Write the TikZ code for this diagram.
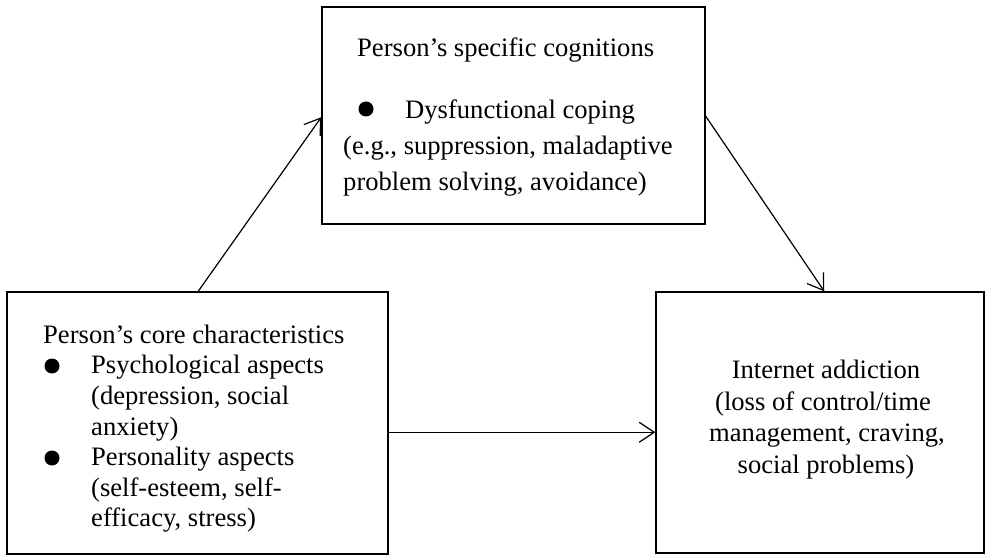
\documentclass[tikz,border=0pt]{standalone}
\usepackage{fontspec}
\setmainfont{Liberation Serif}
\usetikzlibrary{arrows.meta}
\tikzset{
  box/.style={draw, line width=1.5pt, inner sep=0pt, rectangle},
  txt/.style={anchor=base west, inner sep=0pt, font=\fontsize{26.6}{30.6}\selectfont},
  ctxt/.style={anchor=base, inner sep=0pt, font=\fontsize{26.6}{30.6}\selectfont},
  dot/.style={circle, fill=black, inner sep=0pt, minimum size=15pt},
  arr/.style={line width=1.2pt, -{Straight Barb[length=15pt,width=20pt,line width=1.2pt]}}
}
\begin{document}
\begin{tikzpicture}[x=1pt,y=-1pt]
\useasboundingbox (0,0) rectangle (986,556);
% boxes
\node[box, minimum width=383pt, minimum height=217pt] (T) at (513.5,115.5) {};
\node[box, minimum width=381pt, minimum height=262pt] (L) at (197.5,423) {};
\node[box, minimum width=328pt, minimum height=261pt] (R) at (820,422.5) {};
% top box text
\node[txt] (t1) at (357,57) {Person’s specific cognitions};
\node[dot] (tb) at (366,109) {};
\node[txt] (t2) at (405,118.5) {Dysfunctional coping};
\node[txt] (t3) at (343,155) {(e.g., suppression, maladaptive};
\node[txt] (t4) at (343,191) {problem solving, avoidance)};
% left box text
\node[txt] (l1) at (43,343.3) {Person’s core characteristics};
\node[dot] (lb1) at (52,366) {};
\node[txt] (l2) at (91,373.8) {Psychological aspects};
\node[txt] (l3) at (91,404.4) {(depression, social};
\node[txt] (l4) at (91,435) {anxiety)};
\node[dot] (lb2) at (52,458) {};
\node[txt] (l5) at (91,465.5) {Personality aspects};
\node[txt] (l6) at (91,496.1) {(self-esteem, self-};
\node[txt] (l7) at (91,526.7) {efficacy, stress)};
% right box text
\node[ctxt] (r1) at (826,378.3) {Internet addiction};
\node[ctxt] (r2) at (823,410) {(loss of control/time};
\node[ctxt] (r3) at (827,441.5) {management, craving,};
\node[ctxt] (r4) at (826,473.5) {social problems)};
% connector end points on box borders
\path (L.north west) ++(192,0) coordinate (L1);
\path (T.north west) ++(0,111) coordinate (T1);
\path (T.north east) ++(0,110) coordinate (T2);
\path (R.north west) ++(169,0) coordinate (R1);
\path (L.north east) ++(0,141) coordinate (L2);
\path (R.north west) ++(0,141) coordinate (R2);
% connectors
\draw[arr] (L1) -- (T1);
\draw[arr] (T2) -- (R1);
\draw[arr] (L2) -- (R2);
\end{tikzpicture}
\end{document}
